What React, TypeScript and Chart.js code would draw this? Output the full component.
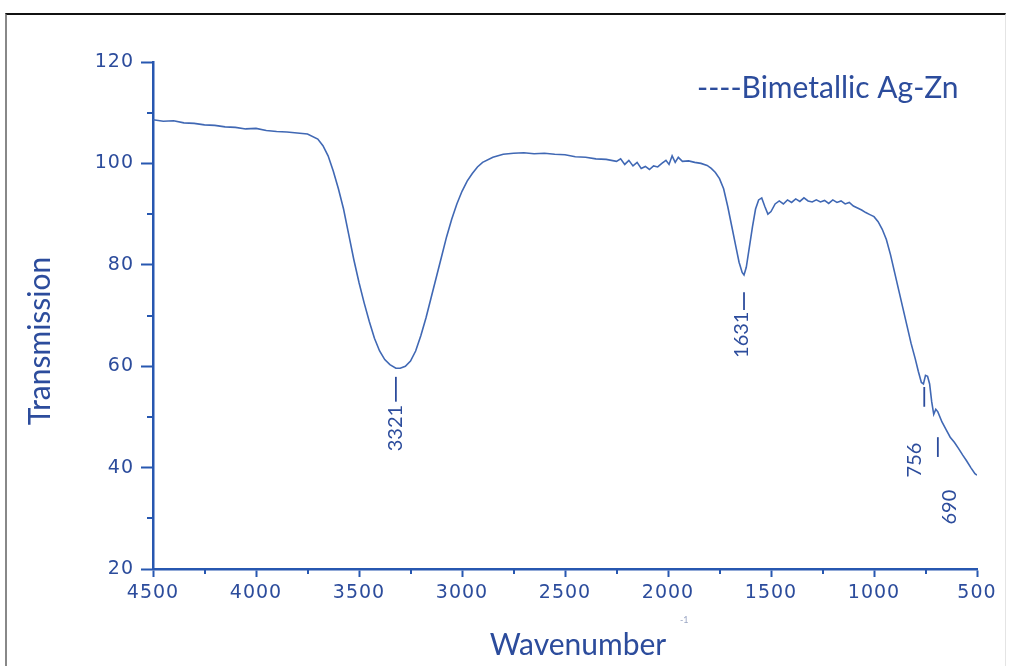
import React, { useEffect, useRef } from "react";
import { Chart, registerables } from "chart.js";

Chart.register(...registerables);

// Wavenumber (cm-1) and transmission readings
const wavenumbers: number[] = [
  4500, 4450, 4400, 4350, 4300, 4250, 4200, 4150, 4100, 4050, 4000, 3950, 3900, 3850, 3800, 3750,
  3700, 3675, 3650, 3625, 3600, 3575, 3550, 3525, 3500, 3475, 3450, 3425, 3400, 3375, 3350, 3321,
  3300, 3275, 3250, 3225, 3200, 3175, 3150, 3125, 3100, 3075, 3050, 3025, 3000, 2975, 2950, 2925,
  2900, 2850, 2800, 2750, 2700, 2650, 2600, 2550, 2500, 2450, 2400, 2350, 2300, 2250, 2230, 2210,
  2190, 2170, 2150, 2130, 2110, 2090, 2070, 2050, 2030, 2010, 1995, 1980, 1965, 1950, 1930, 1900,
  1870, 1840, 1810, 1790, 1770, 1750, 1730, 1710, 1690, 1670, 1655, 1640, 1631, 1620, 1605, 1590,
  1575, 1560, 1545, 1530, 1515, 1500, 1480, 1460, 1440, 1420, 1400, 1380, 1360, 1340, 1320, 1300,
  1280, 1260, 1240, 1220, 1200, 1180, 1160, 1140, 1120, 1100, 1080, 1060, 1040, 1020, 1000, 980,
  960, 940, 920, 900, 880, 860, 840, 820, 800, 785, 770, 760, 750, 740, 730, 720, 710, 700,
  690, 670, 650, 630, 610, 590, 570, 550, 530, 510, 500,
];
const transmission: number[] = [
  108.6, 108.3, 108.4, 108.0, 107.9, 107.6, 107.5, 107.2, 107.1, 106.8, 106.9, 106.5, 106.3, 106.2, 106.0, 105.8,
  104.8, 103.5, 101.5, 98.5, 95.0, 91.0, 86.0, 81.0, 76.5, 72.5, 68.8, 65.5, 63.0, 61.3, 60.3, 59.6,
  59.6, 60.0, 61.0, 63.0, 66.0, 69.5, 73.5, 77.5, 81.5, 85.5, 89.0, 92.0, 94.5, 96.5, 98.0, 99.3,
  100.2, 101.2, 101.8, 102.0, 102.1, 101.9, 102.0, 101.8, 101.7, 101.3, 101.2, 100.9, 100.8, 100.4, 100.9, 99.8,
  100.6, 99.5, 100.2, 99.0, 99.4, 98.8, 99.5, 99.3, 100.0, 100.6, 99.8, 101.5, 100.2, 101.2, 100.4, 100.5,
  100.2, 100.0, 99.6, 99.0, 98.2, 97.0, 95.0, 91.5, 87.5, 83.5, 80.5, 78.5, 78.0, 79.5, 83.5, 87.5,
  91.0, 92.8, 93.2, 91.5, 90.0, 90.5, 92.0, 92.6, 92.0, 92.8, 92.3, 93.0, 92.5, 93.2, 92.6, 92.4,
  92.8, 92.4, 92.7, 92.1, 92.8, 92.3, 92.6, 92.0, 92.3, 91.6, 91.2, 90.8, 90.3, 89.9, 89.5, 88.5,
  87.0, 85.0, 82.0, 78.5, 75.0, 71.5, 68.0, 64.5, 61.5, 59.0, 56.8, 56.5, 58.2, 58.0, 56.5, 53.0, 50.5, 51.5,
  51.0, 49.0, 47.5, 46.0, 45.0, 43.8, 42.5, 41.3, 40.0, 38.8, 38.5,
];

const xTicks: number[] = [4500, 4000, 3500, 3000, 2500, 2000, 1500, 1000, 500];
const yTicks: number[] = [20, 40, 60, 80, 100, 120];
const xMinorTicks: number[] = [4250, 3750, 3250, 2750, 2250, 1750, 1250, 750];
const yMinorTicks: number[] = [30, 50, 70, 90, 110];

// Peak annotations
const peakWavenumbers: number[] = [3321, 1631, 756, 690];
const peakLabels: string[] = ["3321", "1631", "756", "690"];

const seriesName = "----Bimetallic Ag-Zn";
const xTitle = "Wavenumber";
const yTitle = "Transmission";

const TEXT = "#2c4c9c";
const AXIS = "#2757b0";
const LINE = "#4068b4";

// layout of annotation marks (axis-value units for y, pixel offset for x)
const peakMarkLayout = [
  { y1: 57.9, y2: 53.0, ly: 47.8, dx: 0 },
  { y1: 74.6, y2: 71.1, ly: 66.2, dx: -2 },
  { y1: 55.9, y2: 52.0, ly: 41.5, dx: -10 },
  { y1: 46.0, y2: 42.1, ly: 32.2, dx: 12 },
];

const overlayPlugin = {
  id: "overlay",
  beforeDraw(chart: any) {
    (chart.ctx as any).letterSpacing = "1px";
  },
  afterDraw(chart: any) {
    const ctx = chart.ctx as CanvasRenderingContext2D;
    (ctx as any).letterSpacing = "0px";
    const xs = chart.scales.x;
    const ys = chart.scales.y;
    ctx.save();
    // minor ticks
    ctx.strokeStyle = AXIS;
    ctx.lineWidth = 2;
    const left = chart.chartArea.left;
    const bottom = chart.chartArea.bottom;
    yMinorTicks.forEach((v) => {
      const p = Math.round(ys.getPixelForValue(v));
      ctx.beginPath();
      ctx.moveTo(left - 6, p);
      ctx.lineTo(left, p);
      ctx.stroke();
    });
    xMinorTicks.forEach((v) => {
      const p = Math.round(xs.getPixelForValue(v));
      ctx.beginPath();
      ctx.moveTo(p, bottom);
      ctx.lineTo(p, bottom + 5);
      ctx.stroke();
    });
    // peak marks
    ctx.strokeStyle = TEXT;
    ctx.lineWidth = 1.8;
    ctx.fillStyle = TEXT;
    ctx.font = "20px Lato";
    ctx.textAlign = "center";
    ctx.textBaseline = "middle";
    peakWavenumbers.forEach((w, i) => {
      const m = peakMarkLayout[i];
      const px = xs.getPixelForValue(w);
      ctx.beginPath();
      ctx.moveTo(px, ys.getPixelForValue(m.y1));
      ctx.lineTo(px, ys.getPixelForValue(m.y2));
      ctx.stroke();
      ctx.save();
      ctx.translate(px + m.dx, ys.getPixelForValue(m.ly));
      ctx.rotate(-Math.PI / 2);
      ctx.fillText(peakLabels[i], 0, 0);
      ctx.restore();
    });
    // titles and legend text
    ctx.fillStyle = TEXT;
    ctx.font = "30px Lato";
    ctx.textAlign = "center";
    ctx.fillText(xTitle, 578, 645);
    ctx.save();
    ctx.translate(40, 341);
    ctx.rotate(-Math.PI / 2);
    ctx.fillText(yTitle, 0, 0);
    ctx.restore();
    ctx.font = "30px Lato";
    ctx.textAlign = "left";
    ctx.fillText(seriesName, 697, 88);
    ctx.fillStyle = "#9aa6c4";
    ctx.font = "9px Lato";
    ctx.fillText("-1", 680, 620);
    ctx.restore();
  },
};

export default function App() {
  const ref = useRef<HTMLCanvasElement | null>(null);
  useEffect(() => {
    if (!ref.current) return;
    const points = wavenumbers.map((w, i) => ({ x: w, y: transmission[i] }));
    const chart = new Chart(ref.current, {
      type: "line",
      data: {
        datasets: [
          {
            label: seriesName,
            data: points,
            borderColor: LINE,
            borderWidth: 1.6,
            pointRadius: 0,
            tension: 0,
            fill: false,
          },
        ],
      },
      options: {
        animation: false,
        responsive: false,
        maintainAspectRatio: false,
        layout: { padding: { top: 62, right: 34, left: 0, bottom: 0 } },
        plugins: { legend: { display: false }, tooltip: { enabled: false } },
        scales: {
          x: {
            type: "linear",
            reverse: true,
            min: 500,
            max: 4500,
            afterBuildTicks: (s: any) => {
              s.ticks = xTicks.map((v) => ({ value: v }));
            },
            afterFit: (s: any) => {
              s.height = 97;
            },
            ticks: {
              color: TEXT,
              font: { family: "DejaVu Sans", size: 19 },
              padding: 5,
              maxRotation: 0,
              autoSkip: false,
              callback: (v: any) => String(v),
            },
            grid: {
              drawOnChartArea: false,
              drawTicks: true,
              tickLength: 8,
              tickColor: AXIS,
              tickWidth: 2,
            },
            border: { color: AXIS, width: 2.5 },
          },
          y: {
            type: "linear",
            min: 20,
            max: 120,
            afterBuildTicks: (s: any) => {
              s.ticks = yTicks.map((v) => ({ value: v }));
            },
            afterFit: (s: any) => {
              s.width = 153;
            },
            ticks: {
              color: TEXT,
              font: { family: "DejaVu Sans", size: 19 },
              padding: 7,
              autoSkip: false,
              callback: (v: any) => String(v),
            },
            grid: {
              drawOnChartArea: false,
              drawTicks: true,
              tickLength: 12,
              tickColor: AXIS,
              tickWidth: 2,
            },
            border: { color: AXIS, width: 2.5 },
          },
        },
      },
      plugins: [overlayPlugin],
    });
    return () => chart.destroy();
  }, []);
  return (
    <div style={{ position: "absolute", left: 0, top: 0, width: 1011, height: 666, background: "#fff", overflow: "hidden" }}>
      <div
        style={{
          position: "absolute",
          left: 5,
          top: 13,
          width: 998,
          height: 660,
          borderTop: "2px solid #111",
          borderLeft: "2px solid #888",
          borderRight: "1px solid #e4e4e4",
        }}
      />
      <canvas ref={ref} width={1011} height={666} style={{ position: "absolute", left: 0, top: 0 }} />
    </div>
  );
}
